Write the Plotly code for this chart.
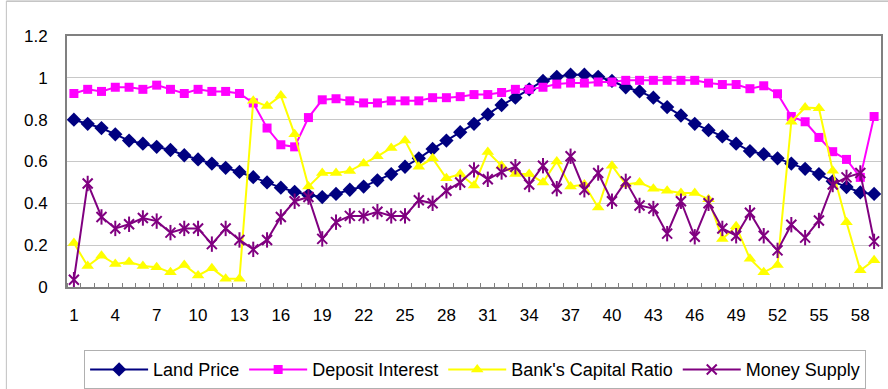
import plotly.graph_objects as go

periods = list(range(1, 60))

land_price = [0.80, 0.78, 0.76, 0.73, 0.70, 0.685, 0.67, 0.655, 0.63, 0.61,
              0.59, 0.57, 0.55, 0.525, 0.50, 0.475, 0.455, 0.44, 0.43, 0.445,
              0.465, 0.48, 0.51, 0.54, 0.575, 0.615, 0.66, 0.70, 0.74, 0.78,
              0.825, 0.87, 0.905, 0.945, 0.985, 1.005, 1.015, 1.015, 1.005, 0.985,
              0.955, 0.935, 0.905, 0.86, 0.82, 0.78, 0.75, 0.72, 0.685, 0.65,
              0.635, 0.615, 0.59, 0.565, 0.54, 0.505, 0.478, 0.452, 0.445]

deposit_interest = [0.925, 0.945, 0.935, 0.955, 0.955, 0.945, 0.965, 0.945, 0.925, 0.945,
                    0.935, 0.935, 0.925, 0.88, 0.76, 0.68, 0.67, 0.81, 0.895, 0.90,
                    0.89, 0.88, 0.88, 0.89, 0.89, 0.89, 0.905, 0.905, 0.91, 0.92,
                    0.92, 0.93, 0.945, 0.945, 0.955, 0.97, 0.975, 0.975, 0.98, 0.98,
                    0.988, 0.988, 0.988, 0.988, 0.988, 0.988, 0.975, 0.968, 0.968, 0.948,
                    0.962, 0.924, 0.815, 0.79, 0.715, 0.647, 0.61, 0.524, 0.815]

capital_ratio = [0.21, 0.10, 0.15, 0.11, 0.12, 0.10, 0.095, 0.07, 0.105, 0.055,
                 0.09, 0.04, 0.04, 0.89, 0.865, 0.915, 0.73, 0.48, 0.545, 0.545,
                 0.555, 0.59, 0.625, 0.665, 0.70, 0.575, 0.615, 0.52, 0.54, 0.485,
                 0.645, 0.58, 0.54, 0.54, 0.50, 0.60, 0.48, 0.49, 0.38, 0.58,
                 0.49, 0.50, 0.47, 0.46, 0.45, 0.45, 0.42, 0.23, 0.29, 0.135,
                 0.07, 0.105, 0.79, 0.858, 0.855, 0.556, 0.31, 0.08, 0.128]

money_supply = [0.035, 0.495, 0.335, 0.28, 0.30, 0.33, 0.315, 0.26, 0.28, 0.28,
                0.205, 0.28, 0.225, 0.18, 0.225, 0.335, 0.41, 0.43, 0.23, 0.31,
                0.34, 0.34, 0.36, 0.34, 0.34, 0.415, 0.40, 0.46, 0.50, 0.56,
                0.515, 0.55, 0.575, 0.49, 0.58, 0.47, 0.625, 0.465, 0.545, 0.41,
                0.505, 0.39, 0.375, 0.255, 0.41, 0.24, 0.40, 0.28, 0.245, 0.355,
                0.245, 0.175, 0.298, 0.236, 0.318, 0.49, 0.524, 0.545, 0.218]

x_tick_vals = list(range(1, 60, 3))
x_tick_text = [str(v) for v in x_tick_vals]
y_tick_vals = [0, 0.2, 0.4, 0.6, 0.8, 1.0, 1.2]
y_tick_text = ["0", "0.2", "0.4", "0.6", "0.8", "1", "1.2"]

font_family = "Liberation Sans, Arial, sans-serif"

fig = go.Figure()

fig.add_trace(go.Scatter(
    x=periods, y=land_price, name="Land Price", mode="lines+markers",
    line=dict(color="#000080", width=2),
    marker=dict(symbol="diamond", size=11, color="#000080"),
))
fig.add_trace(go.Scatter(
    x=periods, y=deposit_interest, name="Deposit Interest", mode="lines+markers",
    line=dict(color="#FF00FF", width=2),
    marker=dict(symbol="square", size=9, color="#FF00FF"),
))
fig.add_trace(go.Scatter(
    x=periods, y=capital_ratio, name="Bank's Capital Ratio", mode="lines+markers",
    line=dict(color="#FFFF00", width=2),
    marker=dict(symbol="triangle-up", size=11, color="#FFFF00"),
))
fig.add_trace(go.Scatter(
    x=periods, y=money_supply, name="Money Supply", mode="lines+markers",
    line=dict(color="#800080", width=2),
    marker=dict(symbol="x-thin-open", size=10, color="#800080",
                line=dict(color="#800080", width=2)),
))
fig.add_trace(go.Scatter(
    x=periods, y=money_supply, showlegend=False, mode="markers",
    hoverinfo="skip",
    marker=dict(symbol="line-ns-open", size=11, color="#800080",
                line=dict(color="#800080", width=2)),
))

fig.update_layout(
    width=888, height=389,
    margin=dict(l=67, r=7, t=36, b=102, autoexpand=False),
    paper_bgcolor="white", plot_bgcolor="white",
    font=dict(family=font_family, size=17, color="black"),
    showlegend=True,
    legend=dict(
        orientation="h", x=0.021, xanchor="left", y=-0.252, yanchor="top",
        bordercolor="#B0B0B0", borderwidth=1,
        font=dict(family=font_family, size=18, color="black"),
        itemwidth=58, tracegroupgap=0,
    ),
    xaxis=dict(
        range=[0.5, 59.5], tickmode="array", tickvals=x_tick_vals, ticktext=x_tick_text,
        showgrid=False, zeroline=False, showline=True, linecolor="#808080", linewidth=2,
        mirror=True, ticks="", ticklabelstandoff=12,
        minor=dict(ticks="inside", tick0=0.5, dtick=1, ticklen=4, tickcolor="#808080",
                   showgrid=False),
        tickfont=dict(family=font_family, size=17, color="black"),
    ),
    yaxis=dict(
        range=[0, 1.2], tickmode="array", tickvals=y_tick_vals, ticktext=y_tick_text,
        showgrid=True, gridcolor="#C8C8C8", gridwidth=1, zeroline=False,
        showline=True, linecolor="#808080", linewidth=2, mirror=True,
        ticks="", ticklabelstandoff=14,
        tickfont=dict(family=font_family, size=17, color="black"),
    ),
    shapes=[
        dict(type="line", xref="paper", yref="paper", x0=-0.0745, x1=1.01, y0=1.139, y1=1.139,
             line=dict(color="#A0A0A0", width=1)),
        dict(type="line", xref="paper", yref="paper", x0=-0.0745, x1=-0.0745, y0=1.139, y1=-0.42,
             line=dict(color="#C0C0C0", width=1)),
    ],
)

fig.write_html("out.html")
